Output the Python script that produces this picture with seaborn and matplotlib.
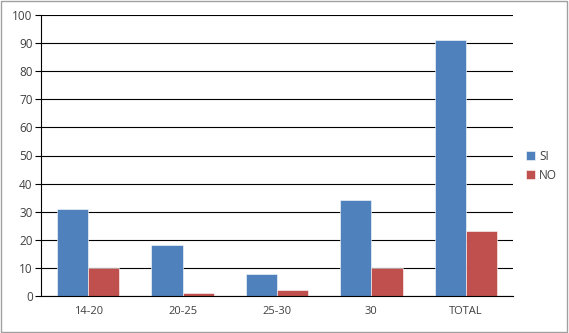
import matplotlib
matplotlib.use("Agg")
import matplotlib.pyplot as plt
import seaborn as sns
import pandas as pd
from matplotlib.patches import Rectangle

categories = ["14-20", "20-25", "25-30", "30", "TOTAL"]
si_values = [31, 18, 8, 34, 91]
no_values = [10, 1, 2, 10, 23]
series_names = ["SI", "NO"]
y_ticks = [0, 10, 20, 30, 40, 50, 60, 70, 80, 90, 100]

df = pd.DataFrame({
    "cat": categories * 2,
    "val": si_values + no_values,
    "serie": [series_names[0]] * len(categories) + [series_names[1]] * len(categories),
})

sns.set_theme(style="white")
plt.rcParams["font.family"] = ["Open Sans", "DejaVu Sans"]

fig = plt.figure(figsize=(5.69, 3.33), dpi=100)
ax = fig.add_axes([41/569, 1-296/333, (513-41)/569, (296-15)/333])

sns.barplot(data=df, x="cat", y="val", hue="serie", order=categories,
            hue_order=series_names, palette=["#4F81BD", "#C0504D"],
            width=0.66, ax=ax, saturation=1, legend=True)

for p in ax.patches:
    p.set_edgecolor("white")
    p.set_linewidth(0.4)

ax.set_ylim(0, 100)
ax.set_xlim(-0.5, len(categories) - 0.5)
ax.set_yticks(y_ticks)
ax.set_yticklabels([str(t) for t in y_ticks], fontsize=8.5, color="#404040")
ax.set_xlabel("")
ax.set_ylabel("")
ax.yaxis.grid(True, color="black", linewidth=0.8)
ax.set_axisbelow(True)

ax.set_xticks(range(len(categories)))
ax.set_xticklabels(categories, fontsize=8, color="#404040")
ax.tick_params(axis="x", which="major", length=0, pad=7)
ax.set_xticks([i - 0.5 for i in range(len(categories) + 1)], minor=True)
ax.tick_params(axis="x", which="minor", length=4, width=0.8, color="black", direction="out")
ax.tick_params(axis="y", length=4, width=0.8, color="black", direction="out", left=True, pad=2)

for s in ["top", "right"]:
    ax.spines[s].set_visible(False)
ax.spines["left"].set_color("black")
ax.spines["bottom"].set_color("black")
ax.spines["left"].set_linewidth(0.8)
ax.spines["bottom"].set_linewidth(0.8)

leg = ax.legend(loc="center left", bbox_to_anchor=(1.015, 0.463), frameon=False,
                fontsize=8.5, handlelength=0.8, handleheight=0.8, handletextpad=0.3,
                labelspacing=0.5, borderpad=0)
for t in leg.get_texts():
    t.set_color("#404040")

fig.patches.append(Rectangle((0.002, 0.003), 0.995, 0.993, transform=fig.transFigure,
                             fill=False, edgecolor="#A0A0A0", linewidth=1))

fig.savefig("out.png", dpi=100)
